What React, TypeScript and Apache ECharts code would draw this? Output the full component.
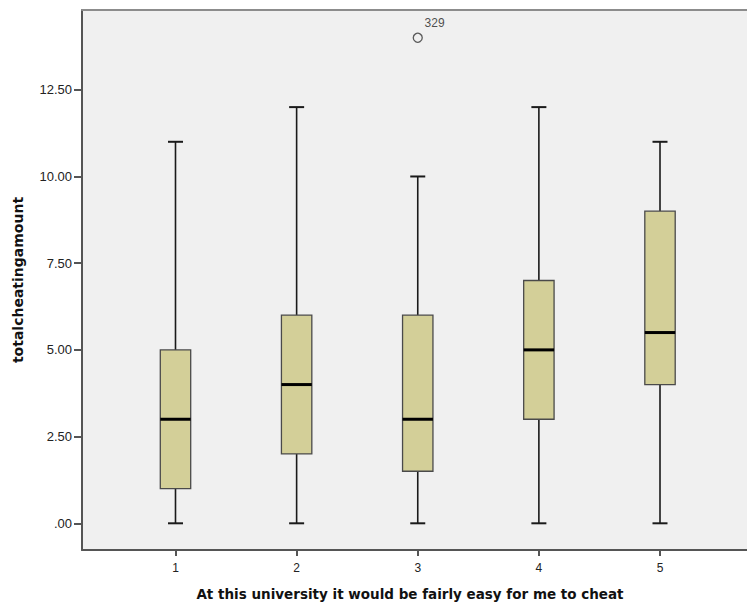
import React, { useEffect, useRef } from "react";
import * as echarts from "echarts";

const categories = [1, 2, 3, 4, 5];
const minValues = [0, 0, 0, 0, 0];
const q1Values = [1, 2, 1.5, 3, 4];
const medianValues = [3, 4, 3, 5, 5.5];
const q3Values = [5, 6, 6, 7, 9];
const maxValues = [11, 12, 10, 12, 11];
const outlierX = [3];
const outlierY = [14];
const outlierLabels = ["329"];
const yTicks = [0, 2.5, 5, 7.5, 10, 12.5];

const xTitle = "At this university it would be fairly easy for me to cheat";
const yTitle = "totalcheatingamount";

export default function App() {
  const ref = useRef<HTMLDivElement>(null);
  useEffect(() => {
    if (!ref.current) return;
    document.body.style.margin = "0";
    document.body.style.overflow = "hidden";
    const chart = echarts.init(ref.current, null, { renderer: "svg" });
    const boxData = categories.map((c, i) => [
      c,
      minValues[i],
      q1Values[i],
      medianValues[i],
      q3Values[i],
      maxValues[i],
    ]);
    const outData = outlierX.map((x, i) => [x, outlierY[i], outlierLabels[i]]);
    const fmtY = (v: number) => {
      const s = v.toFixed(2);
      return s.startsWith("0") ? s.slice(1) : s;
    };
    const xMin = 0.2281;
    const xMax = 5.9081;
    chart.setOption({
      animation: false,
      backgroundColor: "#ffffff",
      grid: {
        left: 82,
        top: 10,
        right: 0,
        bottom: 59,
        show: false,
      },
      xAxis: [
        {
          type: "value",
          min: xMin,
          max: xMax,
          splitLine: { show: false },
          axisLine: { show: true, onZero: false, lineStyle: { color: "#555", width: 2 } },
          axisTick: {
            show: true,
            customValues: categories,
            length: 6,
            lineStyle: { color: "#555", width: 2 },
          },
          axisLabel: {
            customValues: categories,
            color: "#222",
            fontFamily: "Liberation Sans, Arial, sans-serif",
            fontSize: 12,
            margin: 12,
          },
        },
        {
          type: "value",
          position: "top",
          min: xMin,
          max: xMax,
          splitLine: { show: false },
          axisLine: { show: true, onZero: false, lineStyle: { color: "#8c8c8c", width: 2 } },
          axisTick: { show: false },
          axisLabel: { show: false },
        },
      ],
      yAxis: {
        type: "value",
        min: -0.77,
        max: 14.8,
        splitLine: { show: false },
        axisLine: { show: true, onZero: false, lineStyle: { color: "#555", width: 2 } },
        axisTick: {
          show: true,
          customValues: yTicks,
          length: 8,
          lineStyle: { color: "#555", width: 2 },
        },
        axisLabel: {
          customValues: yTicks,
          formatter: fmtY,
          color: "#222",
          fontFamily: "Liberation Sans, Arial, sans-serif",
          fontSize: 13,
          margin: 10,
        },
        name: yTitle,
        nameLocation: "middle",
        nameGap: 57,
        nameRotate: 90,
        nameTextStyle: {
          fontFamily: "DejaVu Sans, Verdana, sans-serif",
          fontWeight: "bold",
          fontSize: 14,
          color: "#111",
        },
      },
      graphic: [
        {
          type: "rect",
          z: -10,
          silent: true,
          shape: { x: 82, y: 10, width: 700, height: 540 },
          style: { fill: "#f0f0f0" },
        },
        {
          type: "text",
          x: 410,
          y: 594,
          style: {
            text: xTitle,
            fill: "#111",
            font: "bold 13.5px 'DejaVu Sans', Verdana, sans-serif",
            textAlign: "center",
            textVerticalAlign: "middle",
          },
        },
      ],
      series: [
        {
          type: "custom",
          data: boxData,
          encode: { x: 0, y: [1, 2, 3, 4, 5] },
          renderItem: (params: any, api: any) => {
            const x = api.value(0);
            const pMin = api.coord([x, api.value(1)]);
            const pQ1 = api.coord([x, api.value(2)]);
            const pMed = api.coord([x, api.value(3)]);
            const pQ3 = api.coord([x, api.value(4)]);
            const pMax = api.coord([x, api.value(5)]);
            const cx = pMin[0];
            const hw = 15.2;
            const cw = 7.5;
            const wStyle = { stroke: "#1a1a1a", lineWidth: 1.6 };
            return {
              type: "group",
              children: [
                { type: "line", shape: { x1: cx, y1: pMin[1], x2: cx, y2: pQ1[1] }, style: wStyle },
                { type: "line", shape: { x1: cx, y1: pQ3[1], x2: cx, y2: pMax[1] }, style: wStyle },
                { type: "line", shape: { x1: cx - cw, y1: pMin[1], x2: cx + cw, y2: pMin[1] }, style: { stroke: "#1a1a1a", lineWidth: 2 } },
                { type: "line", shape: { x1: cx - cw, y1: pMax[1], x2: cx + cw, y2: pMax[1] }, style: { stroke: "#1a1a1a", lineWidth: 2 } },
                {
                  type: "rect",
                  shape: { x: cx - hw, y: pQ3[1], width: hw * 2, height: pQ1[1] - pQ3[1] },
                  style: { fill: "#d3cf98", stroke: "#4a4a4a", lineWidth: 1.3 },
                },
                { type: "line", shape: { x1: cx - hw, y1: pMed[1], x2: cx + hw, y2: pMed[1] }, style: { stroke: "#000", lineWidth: 3 } },
              ],
            };
          },
        },
        {
          type: "scatter",
          data: outData,
          symbol: "circle",
          symbolSize: 9,
          itemStyle: { color: "rgba(0,0,0,0)", borderColor: "#333", borderWidth: 1.3 },
          label: {
            show: true,
            formatter: (p: any) => p.data[2],
            position: [12, -10],
            align: "left",
            verticalAlign: "middle",
            color: "#222",
            fontFamily: "Liberation Sans, Arial, sans-serif",
            fontSize: 12,
          },
        },
      ],
    });
    return () => chart.dispose();
  }, []);
  return (
    <div
      ref={ref}
      style={{ position: "fixed", left: 0, top: 0, width: 770, height: 609 }}
    />
  );
}
